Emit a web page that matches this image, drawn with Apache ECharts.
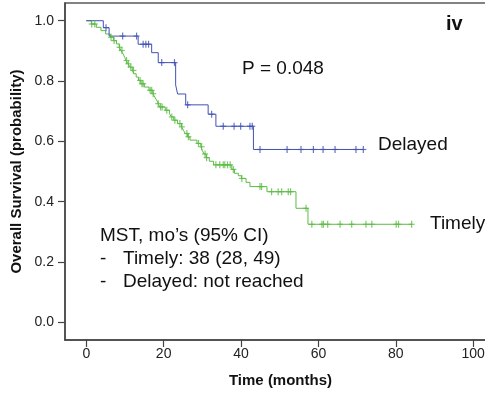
<!DOCTYPE html>
<html>
<head>
<meta charset="utf-8">
<script src="https://cdn.jsdelivr.net/npm/echarts@6/dist/echarts.min.js"></script>
<style>
html,body{margin:0;padding:0;background:#fff;}
#chart{width:485px;height:394px;}
</style>
</head>
<body>
<div id="chart"></div>
<script>
// Delayed arm: event times (months) and survival after each event
var delayedTimes = [0, 4.4, 5.9, 13.4, 16.9, 18.6, 23.1, 23.6, 25.7, 31.5, 33.5, 43.2, 71.6];
var delayedSurv  = [1.0, 0.977, 0.949, 0.922, 0.894, 0.861, 0.787, 0.757, 0.721, 0.690, 0.650, 0.573, 0.573];
var delayedCensor = [5.1, 9.4, 13.0, 14.7, 15.4, 16.1, 19.5, 22.8, 26.2, 32.4, 35.4, 38.2, 39.9, 42.3, 42.9, 44.9, 51.9, 55.5, 58.7, 61.2, 64.3, 69.7, 71.6];

// Timely arm
var timelyTimes = [0, 1.3, 2.6, 3.8, 5.0, 6.2, 7.0, 7.8, 8.5, 9.0, 9.5, 9.9, 10.3, 10.8, 11.3, 11.9, 12.3, 12.9, 13.5, 14.1, 15.0, 16.2, 17.2, 17.7, 18.2, 18.6, 19.0, 20.4, 21.5, 22.0, 22.6, 23.6, 24.6, 25.1, 25.6, 26.2, 26.8, 28.6, 29.6, 30.0, 30.4, 31.0, 31.8, 32.9, 37.6, 38.3, 39.3, 40.1, 41.3, 42.3, 46.7, 54.2, 57.3, 84.1];
var timelySurv  = [1.0, 0.989, 0.978, 0.967, 0.956, 0.945, 0.934, 0.923, 0.912, 0.901, 0.890, 0.879, 0.868, 0.857, 0.846, 0.835, 0.824, 0.813, 0.802, 0.791, 0.780, 0.769, 0.758, 0.747, 0.736, 0.725, 0.714, 0.703, 0.692, 0.681, 0.670, 0.659, 0.648, 0.637, 0.626, 0.615, 0.604, 0.593, 0.582, 0.570, 0.558, 0.546, 0.534, 0.522, 0.507, 0.494, 0.486, 0.477, 0.464, 0.450, 0.433, 0.378, 0.325, 0.325];
var timelyCensor = [1.4, 2.2, 6.4, 7.2, 8.6, 9.2, 10.4, 10.9, 11.5, 12.2, 13.9, 14.4, 14.7, 16.5, 16.9, 17.3, 18.6, 19.2, 19.6, 20.8, 22.1, 22.9, 24.2, 24.7, 26.0, 26.4, 29.0, 29.8, 30.7, 31.1, 33.5, 34.5, 35.4, 35.8, 36.5, 37.2, 38.0, 40.2, 44.9, 45.3, 47.9, 49.6, 50.5, 52.2, 52.8, 56.8, 58.3, 60.9, 61.3, 62.4, 65.6, 68.6, 72.3, 73.8, 80.1, 80.7, 84.1];

var xTicks = [0, 20, 40, 60, 80, 100];
var yTicks = [0, 0.2, 0.4, 0.6, 0.8, 1.0];

var blue = '#4252b4';
var green = '#5dbb46';

function pairs(t, s) { return t.map(function (v, i) { return [v, s[i]]; }); }
function lookup(times, surv, t) {
  var v = surv[0];
  for (var i = 0; i < times.length; i++) { if (times[i] <= t) v = surv[i]; }
  return v;
}
function censorPts(c, times, surv) { return c.map(function (t) { return [t, lookup(times, surv, t)]; }); }

var font = 'Arial, "Liberation Sans", sans-serif';
var chart = echarts.init(document.getElementById('chart'), null, {renderer: 'canvas'});
chart.setOption({
  animation: false,
  grid: {left: 65, top: 3, width: 455, height: 337, containLabel: false, outerBoundsMode: 'none',
         show: true, borderColor: '#5a5a5a', borderWidth: 1.5, backgroundColor: 'transparent'},
  xAxis: {
    type: 'value', min: -5.5, max: 112.1,
    splitLine: {show: false},
    axisLine: {show: true, onZero: false, lineStyle: {color: '#444', width: 1.5}},
    axisTick: {show: true, length: 7, customValues: xTicks, lineStyle: {color: '#444', width: 1.2}},
    axisLabel: {customValues: xTicks, margin: 7, color: '#222', fontSize: 14, fontFamily: font}
  },
  yAxis: {
    type: 'value', min: -0.0587, max: 1.0587,
    splitLine: {show: false},
    axisLine: {show: true, onZero: false, lineStyle: {color: '#444', width: 1.5}},
    axisTick: {show: true, length: 7, customValues: yTicks, lineStyle: {color: '#444', width: 1.2}},
    axisLabel: {customValues: yTicks, margin: 11, color: '#222', fontSize: 14, fontFamily: font,
                formatter: function (v) { return v.toFixed(1); }}
  },
  series: [
    {type: 'line', step: 'end', data: pairs(timelyTimes, timelySurv), showSymbol: false,
     lineStyle: {color: green, width: 1}, z: 2},
    {type: 'line', step: 'end', data: pairs(delayedTimes, delayedSurv), showSymbol: false,
     lineStyle: {color: blue, width: 1}, z: 3},
    {type: 'scatter', data: censorPts(timelyCensor, timelyTimes, timelySurv), symbol: 'rect',
     symbolSize: [1.2, 7], itemStyle: {color: green}, z: 4},
    {type: 'scatter', data: censorPts(timelyCensor, timelyTimes, timelySurv), symbol: 'rect',
     symbolSize: [6, 1.2], itemStyle: {color: green}, z: 4},
    {type: 'scatter', data: censorPts(delayedCensor, delayedTimes, delayedSurv), symbol: 'rect',
     symbolSize: [1.2, 7], itemStyle: {color: blue}, z: 5},
    {type: 'scatter', data: censorPts(delayedCensor, delayedTimes, delayedSurv), symbol: 'rect',
     symbolSize: [6, 1.2], itemStyle: {color: blue}, z: 5}
  ],
  graphic: [
    {type: 'text', left: 446, top: 14, style: {text: 'iv', font: 'bold 20px ' + font, fill: '#111'}},
    {type: 'text', x: 242, y: 69, style: {text: 'P = 0.048', font: '19px ' + font, fill: '#111', textVerticalAlign: 'middle'}},
    {type: 'text', x: 378, y: 145, style: {text: 'Delayed', font: '19px ' + font, fill: '#111', textVerticalAlign: 'middle'}},
    {type: 'text', x: 430, y: 224, style: {text: 'Timely', font: '19px ' + font, fill: '#111', textVerticalAlign: 'middle'}},
    {type: 'text', x: 100, y: 236, style: {text: 'MST, mo\u2019s (95% CI)', font: '19px ' + font, fill: '#111', textVerticalAlign: 'middle'}},
    {type: 'text', x: 100, y: 259, style: {text: '-', font: '19px ' + font, fill: '#111', textVerticalAlign: 'middle'}},
    {type: 'text', x: 123, y: 259, style: {text: 'Timely: 38 (28, 49)', font: '19px ' + font, fill: '#111', textVerticalAlign: 'middle'}},
    {type: 'text', x: 100, y: 282, style: {text: '-', font: '19px ' + font, fill: '#111', textVerticalAlign: 'middle'}},
    {type: 'text', x: 123, y: 282, style: {text: 'Delayed: not reached', font: '19px ' + font, fill: '#111', textVerticalAlign: 'middle'}},
    {type: 'text', x: 280.5, y: 381, style: {text: 'Time (months)', font: 'bold 15px ' + font, fill: '#111', textAlign: 'center', textVerticalAlign: 'middle'}},
    {type: 'text', x: 17, y: 171.5, rotation: Math.PI / 2, style: {text: 'Overall Survival (probability)', font: 'bold 15px ' + font, fill: '#111', textAlign: 'center', textVerticalAlign: 'middle'}}
  ]
});
</script>
</body>
</html>
